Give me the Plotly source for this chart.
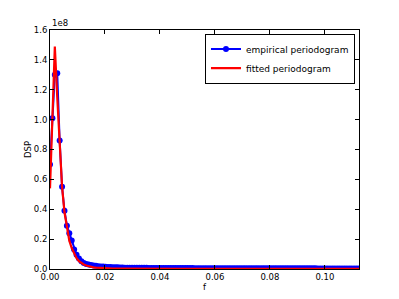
import plotly.graph_objects as go

# frequencies (k * df), k = 0..128
DF = 0.000878
freq_index = list(range(129))
f = [k * DF for k in freq_index]

# empirical periodogram (units of 1e8)
empirical = [
    0.70, 1.01, 1.30, 1.31, 0.86, 0.55, 0.39, 0.29, 0.24, 0.19,
    0.13, 0.095, 0.070, 0.052, 0.040, 0.034, 0.030, 0.027, 0.024, 0.021,
    0.019, 0.017, 0.016, 0.015, 0.014, 0.013, 0.012, 0.011, 0.011, 0.010,
    0.0095, 0.0092, 0.0090, 0.0088, 0.0086, 0.0084, 0.0082, 0.0080, 0.0079, 0.0077,
    0.0076, 0.0074, 0.0073, 0.0072, 0.0071, 0.0070, 0.0069, 0.0068, 0.0067, 0.0066,
    0.0065, 0.0064, 0.0064, 0.0063, 0.0062, 0.0061, 0.0061, 0.0060, 0.0059, 0.0059,
    0.0058, 0.0058, 0.0057, 0.0057, 0.0056, 0.0056, 0.0055, 0.0055, 0.0054, 0.0054,
    0.0053, 0.0053, 0.0052, 0.0052, 0.0052, 0.0051, 0.0051, 0.0050, 0.0050, 0.0050,
    0.0049, 0.0049, 0.0049, 0.0048, 0.0048, 0.0048, 0.0047, 0.0047, 0.0047, 0.0046,
    0.0046, 0.0046, 0.0046, 0.0045, 0.0045, 0.0045, 0.0045, 0.0044, 0.0044, 0.0044,
    0.0044, 0.0043, 0.0043, 0.0043, 0.0043, 0.0043, 0.0042, 0.0042, 0.0042, 0.0042,
    0.0042, 0.0041, 0.0041, 0.0041, 0.0041, 0.0041, 0.0040, 0.0040, 0.0040, 0.0040,
    0.0040, 0.0040, 0.0039, 0.0039, 0.0039, 0.0039, 0.0039, 0.0039, 0.0039,
]

# fitted periodogram (units of 1e8)
fitted = [
    0.54, 1.02, 1.49, 1.15, 0.80, 0.55, 0.38, 0.27, 0.19, 0.14,
    0.10, 0.072, 0.053, 0.040, 0.030, 0.023, 0.018, 0.014, 0.011, 0.0090,
    0.0075, 0.0063, 0.0054, 0.0047, 0.0041, 0.0036, 0.0032, 0.0029, 0.0026, 0.0024,
    0.0022, 0.0020, 0.0019, 0.0018, 0.0017, 0.0016, 0.0015, 0.0014, 0.0014, 0.0013,
    0.0013, 0.0012, 0.0012, 0.0011, 0.0011, 0.0011, 0.0010, 0.0010, 0.0010, 0.0010,
    0.0009, 0.0009, 0.0009, 0.0009, 0.0009, 0.0008, 0.0008, 0.0008, 0.0008, 0.0008,
    0.0008, 0.0008, 0.0007, 0.0007, 0.0007, 0.0007, 0.0007, 0.0007, 0.0007, 0.0007,
    0.0007, 0.0007, 0.0006, 0.0006, 0.0006, 0.0006, 0.0006, 0.0006, 0.0006, 0.0006,
    0.0006, 0.0006, 0.0006, 0.0006, 0.0006, 0.0006, 0.0006, 0.0005, 0.0005, 0.0005,
    0.0005, 0.0005, 0.0005, 0.0005, 0.0005, 0.0005, 0.0005, 0.0005, 0.0005, 0.0005,
    0.0005, 0.0005, 0.0005, 0.0005, 0.0005, 0.0005, 0.0005, 0.0005, 0.0005, 0.0005,
    0.0005, 0.0005, 0.0005, 0.0004, 0.0004, 0.0004, 0.0004, 0.0004, 0.0004, 0.0004,
    0.0004, 0.0004, 0.0004, 0.0004, 0.0004, 0.0004, 0.0004, 0.0004, 0.0004,
]

x_ticks = [0.00, 0.02, 0.04, 0.06, 0.08, 0.10]
y_ticks = [0.0, 0.2, 0.4, 0.6, 0.8, 1.0, 1.2, 1.4, 1.6]

FONT = "DejaVu Sans"
TICK_SIZE = 8.5

fig = go.Figure()
fig.add_trace(go.Scatter(
    x=f, y=empirical, mode="lines+markers", name="empirical periodogram",
    line=dict(color="#0000ff", width=2),
    marker=dict(color="#0000ff", size=6, line=dict(width=0)),
))
fig.add_trace(go.Scatter(
    x=f, y=fitted, mode="lines", name="fitted periodogram",
    line=dict(color="#ff0000", width=2.2),
))

axis_common = dict(
    showline=True, linecolor="black", linewidth=1, mirror="ticks",
    ticks="inside", ticklen=4, tickcolor="black", tickwidth=1,
    showgrid=False, zeroline=False, automargin=False,
    tickfont=dict(family=FONT, size=TICK_SIZE, color="black"),
)

# page body has an 8px margin, so the figure is 391x291 and offset accordingly
fig.update_layout(
    width=391, height=291,
    margin=dict(l=42, r=40, t=22, b=30, pad=0),
    paper_bgcolor="white", plot_bgcolor="white",
    font=dict(family=FONT, size=TICK_SIZE, color="black"),
    xaxis=dict(range=[0, 0.1124], tickvals=x_ticks, tickformat=".2f",
               title=dict(text="f", font=dict(family=FONT, size=TICK_SIZE), standoff=0),
               **axis_common),
    yaxis=dict(range=[0, 1.6], tickvals=y_ticks, tickformat=".1f",
               title=dict(text="DSP", font=dict(family=FONT, size=TICK_SIZE), standoff=0),
               **axis_common),
    showlegend=True,
    legend=dict(
        x=0.987, y=0.985, xanchor="right", yanchor="top",
        bgcolor="white", bordercolor="black", borderwidth=1,
        font=dict(family=FONT, size=9, color="black"),
        itemwidth=30, tracegroupgap=0,
    ),
    annotations=[dict(
        text="1e8", xref="paper", yref="paper", x=0, y=1.0,
        xanchor="left", yanchor="bottom", showarrow=False,
        font=dict(family=FONT, size=TICK_SIZE, color="black"),
    )],
)

fig.write_html("out.html")
